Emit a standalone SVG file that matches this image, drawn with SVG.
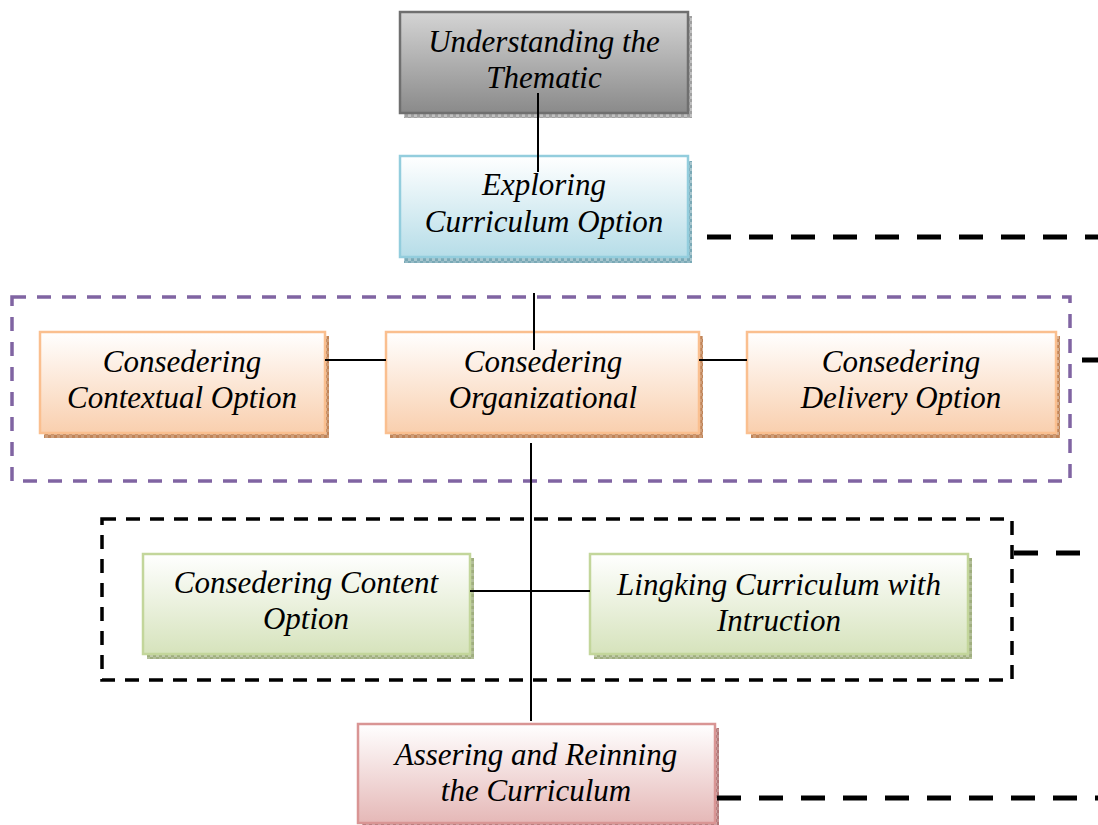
<svg xmlns="http://www.w3.org/2000/svg" width="1098" height="825" viewBox="0 0 1098 825">
<style>
.t{font-family:"Liberation Serif","Times New Roman",serif;font-style:italic;font-size:31px;fill:#000;text-anchor:middle}
.c{stroke:#000;stroke-width:2;fill:none}
.d{stroke:#000;stroke-width:5;stroke-dasharray:24 18;fill:none}
.tex{fill:url(#tex)}
</style>
<defs>
<pattern id="tex" width="6" height="6" patternUnits="userSpaceOnUse">
<rect x="0" y="0" width="3" height="3" fill="#fff" fill-opacity="0.35"/>
<rect x="3" y="3" width="3" height="3" fill="#fff" fill-opacity="0.2"/>
</pattern>
<linearGradient id="gGray" x1="0" y1="0" x2="0" y2="1"><stop offset="0" stop-color="#d4d4d4"/><stop offset="1" stop-color="#8a8a8a"/></linearGradient>
<linearGradient id="gBlue" x1="0" y1="0" x2="0" y2="1"><stop offset="0" stop-color="#ffffff"/><stop offset="1" stop-color="#b6dde8"/></linearGradient>
<linearGradient id="gOr" x1="0" y1="0" x2="0" y2="1"><stop offset="0" stop-color="#ffffff"/><stop offset="1" stop-color="#f9cfae"/></linearGradient>
<linearGradient id="gGr" x1="0" y1="0" x2="0" y2="1"><stop offset="0" stop-color="#ffffff"/><stop offset="1" stop-color="#d6e3bc"/></linearGradient>
<linearGradient id="gPk" x1="0" y1="0" x2="0" y2="1"><stop offset="0" stop-color="#ffffff"/><stop offset="1" stop-color="#e5b8b7"/></linearGradient>
</defs>

<g id="group-purple">
<rect x="12" y="297" width="1058" height="184" fill="none" stroke="#8064a2" stroke-width="3.5" stroke-dasharray="14 11"/>
</g>
<g id="group-black">
<rect x="102" y="519" width="910" height="161" fill="none" stroke="#000" stroke-width="3.5" stroke-dasharray="14 10"/>
</g>

<g id="n1">
<rect x="404" y="16" width="288" height="102" fill="#a0a0a0"/><rect x="404" y="16" width="288" height="102" class="tex"/>
<rect x="400" y="12" width="288" height="101" fill="url(#gGray)" stroke="#6f6f6f" stroke-width="2.5"/>
<text class="t" x="544" y="52">Understanding the</text>
<text class="t" x="544" y="88">Thematic</text>
</g>

<g id="n2">
<rect x="404" y="161" width="288" height="102" fill="#7aa9b6"/><rect x="404" y="161" width="288" height="102" class="tex"/>
<rect x="400" y="156" width="288" height="101" fill="url(#gBlue)" stroke="#93cddd" stroke-width="2.5"/>
<text class="t" x="544" y="195">Exploring</text>
<text class="t" x="544" y="232">Curriculum Option</text>
</g>

<g id="n3">
<rect x="44" y="336" width="285" height="102" fill="#c08458"/><rect x="44" y="336" width="285" height="102" class="tex"/>
<rect x="40" y="332" width="285" height="101" fill="url(#gOr)" stroke="#fabf8f" stroke-width="2.5"/>
<text class="t" x="182" y="372">Consedering</text>
<text class="t" x="182" y="408">Contextual Option</text>
</g>

<g id="n4">
<rect x="390" y="336" width="313" height="102" fill="#c08458"/><rect x="390" y="336" width="313" height="102" class="tex"/>
<rect x="386" y="332" width="313" height="101" fill="url(#gOr)" stroke="#fabf8f" stroke-width="2.5"/>
<text class="t" x="543" y="372">Consedering</text>
<text class="t" x="543" y="408">Organizational</text>
</g>

<g id="n5">
<rect x="751" y="336" width="309" height="102" fill="#c08458"/><rect x="751" y="336" width="309" height="102" class="tex"/>
<rect x="747" y="332" width="309" height="101" fill="url(#gOr)" stroke="#fabf8f" stroke-width="2.5"/>
<text class="t" x="901" y="372">Consedering</text>
<text class="t" x="901" y="408">Delivery Option</text>
</g>

<g id="n6">
<rect x="147" y="558" width="327" height="101" fill="#9fae7e"/><rect x="147" y="558" width="327" height="101" class="tex"/>
<rect x="143" y="554" width="327" height="100" fill="url(#gGr)" stroke="#c3d69b" stroke-width="2.5"/>
<text class="t" x="306" y="593">Consedering Content</text>
<text class="t" x="306" y="629">Option</text>
</g>

<g id="n7">
<rect x="594" y="558" width="378" height="101" fill="#9fae7e"/><rect x="594" y="558" width="378" height="101" class="tex"/>
<rect x="590" y="554" width="378" height="100" fill="url(#gGr)" stroke="#c3d69b" stroke-width="2.5"/>
<text class="t" x="779" y="595">Lingking Curriculum with</text>
<text class="t" x="779" y="631">Intruction</text>
</g>

<g id="n8">
<rect x="362" y="728" width="357" height="101" fill="#b07878"/><rect x="362" y="728" width="357" height="101" class="tex"/>
<rect x="358" y="724" width="357" height="99" fill="url(#gPk)" stroke="#d99594" stroke-width="2.5"/>
<text class="t" x="536" y="765">Assering and Reinning</text>
<text class="t" x="536" y="801">the Curriculum</text>
</g>

<g id="connectors">
<line class="c" x1="538" y1="93" x2="538" y2="172"/>
<line class="c" x1="534" y1="293" x2="534" y2="350"/>
<line class="c" x1="325" y1="360" x2="386" y2="360"/>
<line class="c" x1="699" y1="360" x2="747" y2="360"/>
<line class="c" x1="531" y1="443" x2="531" y2="721"/>
<line class="c" x1="470" y1="591" x2="590" y2="591"/>
<line class="d" x1="707" y1="237" x2="1098" y2="237"/>
<line class="d" x1="1082" y1="360" x2="1098" y2="360"/>
<line class="d" x1="1014" y1="553" x2="1098" y2="553"/>
<line class="d" x1="717" y1="798" x2="1098" y2="798"/>
</g>
</svg>
